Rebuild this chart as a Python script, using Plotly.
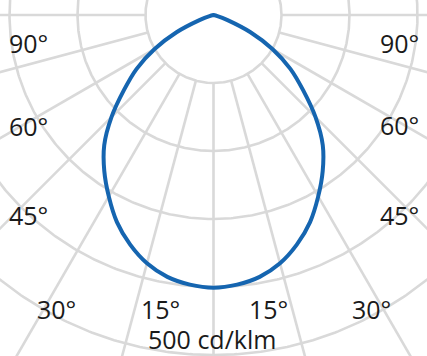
import numpy as np
import plotly.graph_objects as go

# Luminous intensity distribution (cd/klm) vs angle from nadir (deg), symmetric
angles_deg = [0, 5, 10, 15, 20, 25, 30, 35, 40, 45, 50, 55, 60, 65, 70, 75, 80, 85, 90]
intensity = [401, 398, 391, 378, 359, 336, 308, 280, 250, 212, 172, 138, 100, 60, 22, 6, 0, 0, 0]

# Polar grid
circle_values = [100, 200, 300, 400, 500, 600]
ray_angles_deg = [-90, -75, -60, -45, -30, -15, 0, 15, 30, 45, 60, 75, 90]
ray_inner = 100
ray_outer = 900

# Labels
angle_labels = ["90°", "60°", "45°", "30°", "15°", "15°", "30°", "45°", "60°", "90°"]
scale_label = "500 cd/klm"

W, H = 427, 356
PX_PER_UNIT = 0.68
CX, CY = 213.5, 15.0  # pixel position of the pole

GRID = "#d9d9d9"
BLUE = "#1565b0"
TEXT = "#1a1a1a"

fig = go.Figure()

t = np.linspace(0, 2 * np.pi, 721)
for r in circle_values:
    fig.add_trace(go.Scatter(x=r * np.sin(t), y=-r * np.cos(t), mode="lines",
                             line=dict(color=GRID, width=2.6),
                             hoverinfo="skip", showlegend=False))

rx, ry = [], []
for a in ray_angles_deg:
    ar = np.radians(a)
    rx += [ray_inner * np.sin(ar), ray_outer * np.sin(ar), None]
    ry += [-ray_inner * np.cos(ar), -ray_outer * np.cos(ar), None]
fig.add_trace(go.Scatter(x=rx, y=ry, mode="lines", line=dict(color=GRID, width=2.6),
                         hoverinfo="skip", showlegend=False))

# full curve: left side (negative angles) then right side
th = np.radians(np.array(angles_deg, dtype=float))
I = np.array(intensity, dtype=float)
th_full = np.concatenate([-th[::-1], th[1:]])
I_full = np.concatenate([I[::-1], I[1:]])
fig.add_trace(go.Scatter(x=I_full * np.sin(th_full), y=-I_full * np.cos(th_full),
                         mode="lines", line=dict(color=BLUE, width=4, shape="spline"),
                         hoverinfo="skip", showlegend=False))

label_px = [(28, 43), (28, 126), (28, 215), (56, 309), (160, 309),
            (268, 309), (371, 309), (399, 215), (399, 125), (399, 43)]
annotations = []
for txt, (px, py) in zip(angle_labels, label_px):
    annotations.append(dict(x=px / W, y=1 - py / H, xref="paper", yref="paper",
                            text=txt, showarrow=False, xanchor="center", yanchor="middle",
                            font=dict(family="Open Sans", size=25, color=TEXT)))
annotations.append(dict(x=212 / W, y=1 - 339 / H, xref="paper", yref="paper",
                        text=scale_label, showarrow=False, xanchor="center", yanchor="middle",
                        font=dict(family="Open Sans", size=25, color=TEXT)))

fig.update_layout(
    width=W, height=H, margin=dict(l=0, r=0, t=0, b=0),
    paper_bgcolor="white", plot_bgcolor="white",
    xaxis=dict(range=[-CX / PX_PER_UNIT, (W - CX) / PX_PER_UNIT], visible=False, fixedrange=True),
    yaxis=dict(range=[-(H - CY) / PX_PER_UNIT, CY / PX_PER_UNIT], visible=False, fixedrange=True),
    annotations=annotations,
    showlegend=False,
)

fig.write_html("out.html")
